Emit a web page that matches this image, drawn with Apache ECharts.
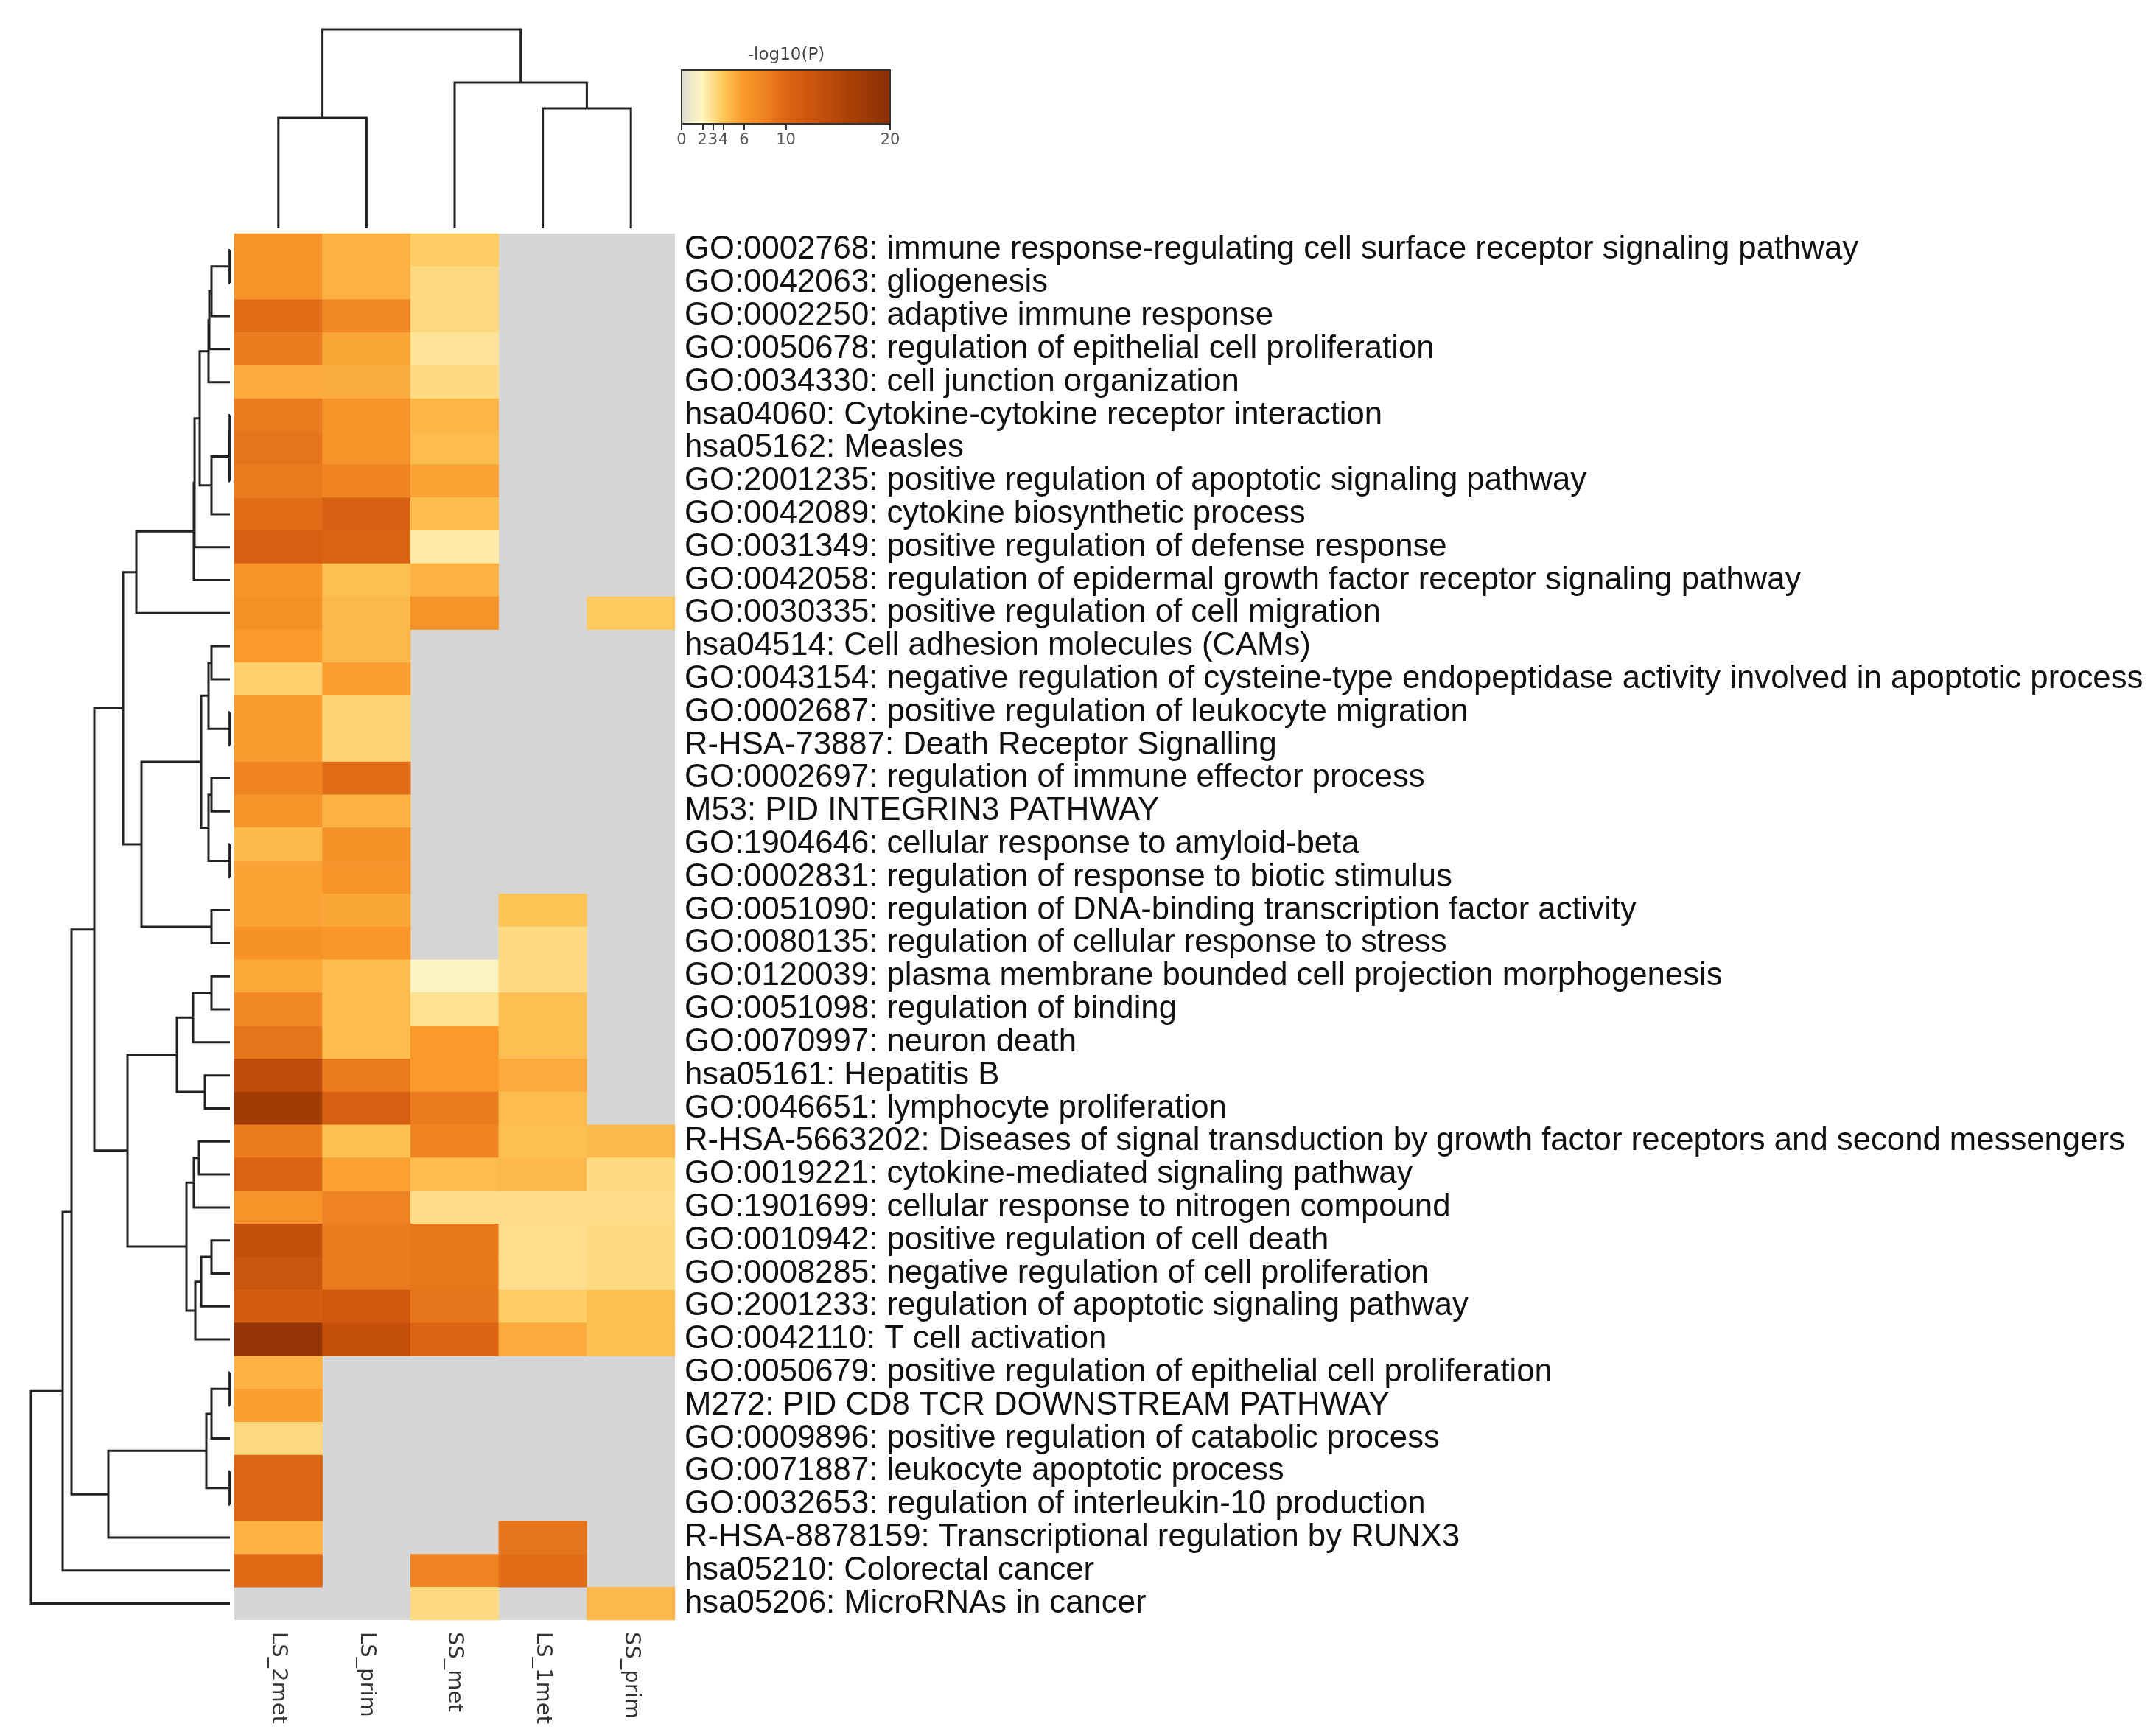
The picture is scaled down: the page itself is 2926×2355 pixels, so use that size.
<!DOCTYPE html>
<html><head><meta charset="utf-8">
<script src="https://cdn.jsdelivr.net/npm/echarts@6/dist/echarts.min.js"></script>
<style>html,body{margin:0;padding:0;background:#fff}#c{width:2926px;height:2355px}</style>
</head><body><div id="c"></div>
<script>
const samples = ['LS_2met','LS_prim','SS_met','LS_1met','SS_prim'];
const terms = [
'GO:0002768: immune response-regulating cell surface receptor signaling pathway',
'GO:0042063: gliogenesis',
'GO:0002250: adaptive immune response',
'GO:0050678: regulation of epithelial cell proliferation',
'GO:0034330: cell junction organization',
'hsa04060: Cytokine-cytokine receptor interaction',
'hsa05162: Measles',
'GO:2001235: positive regulation of apoptotic signaling pathway',
'GO:0042089: cytokine biosynthetic process',
'GO:0031349: positive regulation of defense response',
'GO:0042058: regulation of epidermal growth factor receptor signaling pathway',
'GO:0030335: positive regulation of cell migration',
'hsa04514: Cell adhesion molecules (CAMs)',
'GO:0043154: negative regulation of cysteine-type endopeptidase activity involved in apoptotic process',
'GO:0002687: positive regulation of leukocyte migration',
'R-HSA-73887: Death Receptor Signalling',
'GO:0002697: regulation of immune effector process',
'M53: PID INTEGRIN3 PATHWAY',
'GO:1904646: cellular response to amyloid-beta',
'GO:0002831: regulation of response to biotic stimulus',
'GO:0051090: regulation of DNA-binding transcription factor activity',
'GO:0080135: regulation of cellular response to stress',
'GO:0120039: plasma membrane bounded cell projection morphogenesis',
'GO:0051098: regulation of binding',
'GO:0070997: neuron death',
'hsa05161: Hepatitis B',
'GO:0046651: lymphocyte proliferation',
'R-HSA-5663202: Diseases of signal transduction by growth factor receptors and second messengers',
'GO:0019221: cytokine-mediated signaling pathway',
'GO:1901699: cellular response to nitrogen compound',
'GO:0010942: positive regulation of cell death',
'GO:0008285: negative regulation of cell proliferation',
'GO:2001233: regulation of apoptotic signaling pathway',
'GO:0042110: T cell activation',
'GO:0050679: positive regulation of epithelial cell proliferation',
'M272: PID CD8 TCR DOWNSTREAM PATHWAY',
'GO:0009896: positive regulation of catabolic process',
'GO:0071887: leukocyte apoptotic process',
'GO:0032653: regulation of interleukin-10 production',
'R-HSA-8878159: Transcriptional regulation by RUNX3',
'hsa05210: Colorectal cancer',
'hsa05206: MicroRNAs in cancer'
];
const N = null;
const LS_2met = [6.5,6.5,9.5,8.5,5.3,8.5,9,8.5,9.5,11,6.5,6.8,6.0,3.6,5.9,5.9,7.8,6.5,4.6,5.6,5.6,6.6,5.4,7.5,9.0,14,17,8.5,10.5,6.5,13.5,12.5,11.5,18.5,5.0,5.8,3.3,10,10,5.0,9.8,N];
const LS_prim = [5,5,7.5,5.5,5.2,6.5,6.5,7.8,10.8,10.3,4.4,4.7,4.7,5.8,3.5,3.5,9.5,5,6.6,6.5,5.5,6.3,4.5,4.5,4.5,8.5,11,4.3,5.7,8.0,8.5,8.5,12,13.5,N,N,N,N,N,N,N,N];
const SS_met = [3.8,3.3,3.3,2.8,3.2,4.8,4.5,5.6,4.5,2.5,5,6.5,N,N,N,N,N,N,N,N,N,N,1.8,2.9,6.0,6.0,8.5,7.8,4.5,3.1,8.8,8.8,9.0,10.3,N,N,N,N,N,N,8.0,3.2];
const LS_1met = [N,N,N,N,N,N,N,N,N,N,N,N,N,N,N,N,N,N,N,N,4.2,3.2,3.2,4.4,4.4,5.3,4.5,4.4,4.7,3.1,3.0,3.0,3.8,5.3,N,N,N,N,N,9.0,9.5,N];
const SS_prim = [N,N,N,N,N,N,N,N,N,N,N,3.9,N,N,N,N,N,N,N,N,N,N,N,N,N,N,N,4.6,3.2,3.1,3.2,3.2,4.3,4.3,N,N,N,N,N,N,N,4.7];
const columns = [LS_2met, LS_prim, SS_met, LS_1met, SS_prim];

const colorbarTicks = [0,2,3,4,6,10,20];
const colorStops = ['#dcdcd4','#fff6c0','#fec85a','#f99a2b','#ef8222','#dd6614','#ce580e','#bf4c0a','#ab4107','#993706','#8a2e05'];

// dendrograms: [left, right, height]; leaves are row/column indices
const rowTree =
 [[[[[[[[[[[[[0,1,0.4],2,25],3,28],4,29],[[[[5,6,0.3],7,0.5],8,25]],41],9,48],10,49],11,127],
      [[[[12,13,25],[14,15,0.4],29],[[16,17,25],[18,19,0.4],29],39],[20,21,25],120],145],
     [[[[22,23,25],24,50],[25,26,34],72],[[[27,28,42],29,49],[[[30,31,25],32,39],33,47],59],139],184],
    [[[[34,35,0.4],36,25],[37,38,0.4],32],39,165],215],40,227],41,270];
const colTree = [[0,1,150],[2,[3,4,163],198],270];

function fixTree(t){
  if (typeof t === 'number') return t;
  if (t.length === 1) return fixTree(t[0]);
  return [fixTree(t[0]), fixTree(t[1]), t[2]];
}
function segments(tree){
  const segs = [];
  (function walk(n){
    if (typeof n === 'number') return {p:n+0.5, h:0};
    const l = walk(n[0]), r = walk(n[1]);
    segs.push([l.h, l.p, n[2], r.p, r.h]);
    return {p:(l.p+r.p)/2, h:n[2]};
  })(fixTree(tree));
  return segs;
}
const rowSegs = segments(rowTree);
const colSegs = segments(colTree);

const heatData = [];
columns.forEach((col, ci) => col.forEach((v, ri) => { if (v !== null) heatData.push([ci, ri, v]); }));

const chart = echarts.init(document.getElementById('c'));
const LINE = '#222';
chart.setOption({
  animation:false,
  backgroundColor:'#fff',
  grid:[
    {left:318, top:317, width:598, height:1882, show:true, backgroundColor:'#d6d6d6', borderWidth:0},
    {left:42, top:317, width:270, height:1882},
    {left:318, top:40, width:598, height:270},
    {left:925, top:95, width:283, height:73}
  ],
  xAxis:[
    {gridIndex:0, type:'category', data:samples, position:'bottom', axisLine:{show:false}, axisTick:{show:false},
     axisLabel:{interval:0, rotate:-90, fontSize:29, margin:16, color:'#333', fontFamily:'DejaVu Sans'}},
    {gridIndex:1, type:'value', min:0, max:270, inverse:true, show:false},
    {gridIndex:2, type:'value', min:0, max:5, show:false},
    {gridIndex:3, type:'value', min:0, max:20, position:'bottom', axisLine:{show:false}, splitLine:{show:false},
     axisTick:{show:true, customValues:colorbarTicks, length:8, lineStyle:{color:'#333', width:2}},
     axisLabel:{customValues:colorbarTicks, fontSize:21, color:'#555', margin:12, fontFamily:'DejaVu Sans'}}
  ],
  yAxis:[
    {gridIndex:0, type:'category', data:terms, inverse:true, position:'right', axisLine:{show:false}, axisTick:{show:false},
     axisLabel:{interval:0, fontSize:43.7, margin:13, color:'#111', fontFamily:'Liberation Sans'}},
    {gridIndex:1, type:'value', min:0, max:42, inverse:true, show:false},
    {gridIndex:2, type:'value', min:0, max:270, show:false},
    {gridIndex:3, type:'value', min:0, max:1, show:false}
  ],
  visualMap:{type:'continuous', show:false, min:0, max:20, seriesIndex:0, inRange:{color:colorStops}},
  series:[
    {type:'heatmap', xAxisIndex:0, yAxisIndex:0, data:heatData, itemStyle:{borderWidth:0}, emphasis:{disabled:true}},
    {type:'custom', xAxisIndex:1, yAxisIndex:1, data:rowSegs, silent:true,
     renderItem:(p, api) => {
       const pts = [[api.value(0),api.value(1)],[api.value(2),api.value(1)],[api.value(2),api.value(3)],[api.value(4),api.value(3)]].map(q=>api.coord(q));
       return {type:'polyline', shape:{points:pts}, style:{stroke:LINE, lineWidth:3, fill:null}};
     }},
    {type:'custom', xAxisIndex:2, yAxisIndex:2, data:colSegs, silent:true,
     renderItem:(p, api) => {
       const pts = [[api.value(1),api.value(0)],[api.value(1),api.value(2)],[api.value(3),api.value(2)],[api.value(3),api.value(4)]].map(q=>api.coord(q));
       return {type:'polyline', shape:{points:pts}, style:{stroke:LINE, lineWidth:3, fill:null}};
     }},
    {type:'custom', xAxisIndex:3, yAxisIndex:3, data:[[colorbarTicks[0], colorbarTicks[colorbarTicks.length-1]]], silent:true,
     renderItem:(p, api) => {
       const a = api.coord([api.value(0), 1]), b = api.coord([api.value(1), 0]);
       const grad = new echarts.graphic.LinearGradient(0,0,1,0, colorStops.map((c,i)=>({offset:i/(colorStops.length-1), color:c})));
       return {type:'rect', shape:{x:a[0], y:a[1], width:b[0]-a[0], height:b[1]-a[1]}, style:{fill:grad, stroke:'#333', lineWidth:2}};
     }}
  ],
  graphic:[{type:'text', x:1067, y:75, style:{text:'-log10(P)', fontSize:23, fill:'#444', fontFamily:'DejaVu Sans', align:'center', verticalAlign:'middle'}}]
});
</script></body></html>
